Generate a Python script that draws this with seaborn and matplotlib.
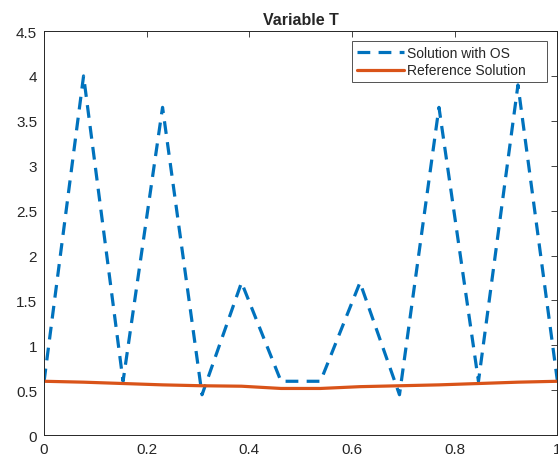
import matplotlib.pyplot as plt
import numpy as np
import pandas as pd
import seaborn as sns

# data
x = np.arange(14) / 13
os_values = [0.6, 4.0, 0.6, 3.65, 0.45, 1.7, 0.6, 0.6, 1.7, 0.45, 3.65, 0.6, 3.9, 0.6]
ref_values = [0.6, 0.59, 0.575, 0.56, 0.55, 0.545, 0.52, 0.52, 0.54, 0.55, 0.56, 0.575, 0.59, 0.6]
series = ["Solution with OS", "Reference Solution"]
x_ticks = [0, 0.2, 0.4, 0.6, 0.8, 1]
y_ticks = [0, 0.5, 1, 1.5, 2, 2.5, 3, 3.5, 4, 4.5]

df = pd.DataFrame({
    "x": np.concatenate([x, x]),
    "T": os_values + ref_values,
    "series": [series[0]] * 14 + [series[1]] * 14,
})

sns.set_style("white")
plt.rcParams["font.family"] = ["Liberation Sans", "DejaVu Sans"]

fig = plt.figure(figsize=(5.58, 4.64), dpi=100)
ax = fig.add_axes([0.079, 0.06, 0.92, 0.871])

sns.lineplot(
    data=df, x="x", y="T", hue="series", style="series",
    palette=["#0072BD", "#D95319"], dashes=[(4, 2.6), ""],
    linewidth=2.3, ax=ax,
)

ax.set_xlim(0, 1)
ax.set_ylim(0, 4.5)
ax.set_xticks(x_ticks, labels=["0", "0.2", "0.4", "0.6", "0.8", "1"])
ax.set_yticks(y_ticks, labels=["0", "0.5", "1", "1.5", "2", "2.5", "3", "3.5", "4", "4.5"])
ax.set_xlabel("")
ax.set_ylabel("")
ax.set_title("Variable T", fontsize=11.5, weight="bold", pad=5)
ax.tick_params(direction="in", length=4, width=0.6, top=True, right=True,
               labelsize=11, colors="#262626", pad=5)
for s in ax.spines.values():
    s.set_color("#262626")
    s.set_linewidth(0.7)

# matlab-like legend box with extra room on the right
leg = ax.legend(loc="upper left", bbox_to_anchor=(0.600, 0.879, 0.380, 0.096),
                mode="expand", fontsize=10, frameon=True, fancybox=False,
                handlelength=3.4, handletextpad=0.2, borderpad=0.35,
                labelspacing=0.25, borderaxespad=0)
leg.get_frame().set_edgecolor("#262626")
leg.get_frame().set_linewidth(0.7)

fig.savefig("out.png", dpi=100)
